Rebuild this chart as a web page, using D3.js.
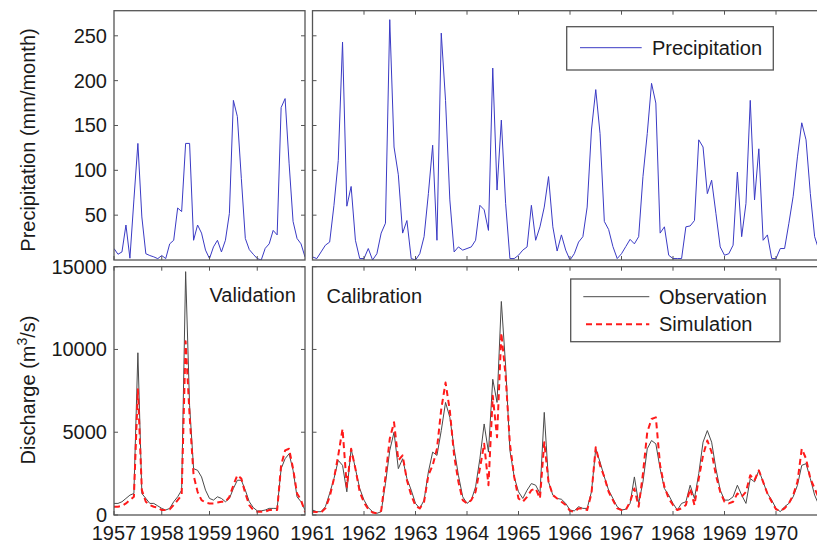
<!DOCTYPE html>
<html>
<head>
<meta charset="utf-8">
<script src="https://cdn.jsdelivr.net/npm/d3@7"></script>
<style>
  body { margin: 0; background: #fff; }
  svg text { font-family: "Liberation Sans", Arial, Helvetica, sans-serif; fill: #1a1a1a; }
</style>
</head>
<body>
<svg id="chart" width="817" height="542"></svg>
<script>
// monthly values, Jan 1957 .. Dec 1960 (validation) and Jan 1961 .. Nov 1970 (calibration)
const precipValidation = [
  12.8, 6.4, 9, 39, 2, 67, 130, 48, 7, 5, 3.5, 1.5,
  5, 1.6, 18, 22, 58, 54, 130, 130, 22, 39, 30, 11,
  1.6, 14.6, 22, 9, 22, 52, 178, 160, 91, 24, 11.6, 6.4,
  1.6, 0, 13, 18, 33, 28, 170, 180, 108, 43, 24, 18
];
const precipCalibration = [
  3.4, 1.6, 9, 16.5, 20, 61, 111, 243, 60, 82, 22, 1.6,
  1.6, 12.8, 0, 7, 30, 41, 268, 126, 95, 30, 44, 1.6,
  0, 7, 26, 74, 128, 22, 253, 178, 67, 9, 14.6, 11,
  12.8, 14.6, 22, 61, 56, 33, 214, 78, 156, 63, 1.6, 1.6,
  5.3, 11, 14.6, 61, 22, 37, 59, 93, 37, 10, 28, 11,
  0, 7, 20, 26, 59, 145, 190, 141, 43, 34, 15, 1.6,
  7, 15, 23, 18, 26, 93, 141, 197, 175, 30, 37, 5.3,
  1.6, 1.6, 1.6, 37, 38, 44, 134, 126, 74, 89, 52, 14.6,
  5.3, 7, 16.5, 98, 26, 63, 178, 67, 124, 22, 28, 1.6,
  1.6, 12.8, 12.8, 41, 71, 115, 153, 134, 74, 26, 11
];
const obsValidation = [
  700, 700, 800, 1000, 1200, 1300, 9800, 1300, 1000, 700, 700, 550,
  400, 300, 400, 800, 1100, 1500, 14700, 6600, 2800, 2700, 2300, 1500,
  1000, 900, 1100, 1000, 800, 1000, 1600, 2100, 2100, 1500, 800, 450,
  250, 250, 300, 400, 400, 400, 2800, 3400, 3700, 2700, 1100, 800
];
const simValidation = [
  500, 500, 550, 700, 900, 1100, 7600, 1500, 800, 600, 500, 450,
  300, 300, 350, 600, 900, 1200, 10500, 6000, 2400, 1400, 900, 750,
  700, 700, 750, 800, 800, 1100, 1800, 2400, 2200, 1300, 600, 300,
  200, 200, 200, 300, 300, 300, 3000, 3900, 4000, 2800, 1300, 900
];
const obsCalibration = [
  300, 200, 200, 500, 1300, 2200, 3300, 3000, 1400, 4000, 2800, 1600,
  900, 450, 200, 100, 200, 1900, 3900, 5000, 2800, 3400, 2200, 1500,
  700, 400, 900, 2600, 3800, 3600, 5100, 6800, 5900, 4000, 2400, 1100,
  700, 900, 1700, 3400, 5500, 3800, 8200, 6800, 12900, 9000, 3900, 2300,
  1400, 1000, 1500, 1900, 1800, 1300, 6200, 2000, 1200, 1000, 950, 700,
  300, 250, 500, 400, 400, 1400, 4000, 3200, 2300, 1500, 1000, 500,
  300, 350, 700, 2300, 700, 2000, 4000, 4500, 4300, 2800, 1600, 1200,
  700, 300, 700, 800, 1800, 1000, 2500, 4400, 5100, 4400, 2800, 1500,
  900, 900, 1100, 1800, 1200, 700, 2200, 2000, 2700, 2000, 1300, 900,
  400, 200, 500, 700, 1100, 1800, 3000, 3100, 2200, 1200, 600
];
const simCalibration = [
  200, 180, 160, 400, 1100, 2200, 3600, 5200, 1700, 4000, 2800, 1400,
  750, 350, 150, 100, 250, 2300, 4600, 5600, 3300, 3600, 2100, 1200,
  550, 400, 800, 2400, 3000, 4000, 6400, 8000, 6300, 3600, 2000, 900,
  700, 900, 1400, 2800, 4300, 1800, 7200, 4700, 11000, 8400, 4300, 2300,
  1000, 800, 1100, 1500, 1600, 1000, 4400, 2000, 1200, 1000, 800, 600,
  250, 200, 400, 400, 300, 1300, 4100, 3000, 2300, 1400, 900, 400,
  300, 300, 800, 1600, 500, 2500, 5000, 5800, 5900, 3000, 1700, 1000,
  600, 300, 400, 600, 1600, 600, 2200, 3600, 4500, 3800, 2400, 1400,
  800, 700, 800, 1300, 1100, 1400, 2400, 2100, 2700, 2000, 1300, 800,
  350, 250, 400, 700, 1200, 2000, 4000, 3400, 2200, 1600, 1000
];
const yearsValidation = [1957, 1958, 1959, 1960];
const yearsCalibration = [1961, 1962, 1963, 1964, 1965, 1966, 1967, 1968, 1969, 1970];
const precipTicks = [50, 100, 150, 200, 250];
const dischargeTicks = [0, 5000, 10000, 15000];

const startYear = 1957;
const toSeries = arr => arr.map((v, i) => ({ t: startYear + i / 12, v: v }));
const precip = toSeries(precipValidation.concat(precipCalibration));
const obs = toSeries(obsValidation.concat(obsCalibration));
const sim = toSeries(simValidation.concat(simCalibration));

const svg = d3.select("#chart");
const frameColor = "#555";
const fontSize = 20;

// x scales for the two columns, y scales for the two rows
const xLeft = d3.scaleLinear().domain([1957, 1961]).range([114, 305]);
const xRight = d3.scaleLinear().domain([1961, 1971]).range([312.5, 827.5]);
const yPrecip = d3.scaleLinear().domain([0, 278]).range([260, 10.7]);
const yQ = d3.scaleLinear().domain([0, 15000]).range([515, 266.7]);

const panels = [
  { id: "tl", x: xLeft, y: yPrecip, yTicks: precipTicks, years: yearsValidation, yLabels: true, topTicks: false, xLabels: false },
  { id: "tr", x: xRight, y: yPrecip, yTicks: precipTicks, years: yearsCalibration, yLabels: false, topTicks: true, xLabels: false },
  { id: "bl", x: xLeft, y: yQ, yTicks: dischargeTicks, years: yearsValidation, yLabels: true, topTicks: true, xLabels: true },
  { id: "br", x: xRight, y: yQ, yTicks: dischargeTicks, years: yearsCalibration, yLabels: false, topTicks: true, xLabels: true }
];

const defs = svg.append("defs");

panels.forEach(p => {
  const [x0, x1] = p.x.range();
  const [y1, y0] = p.y.range();
  p.x0 = x0; p.x1 = x1; p.y0 = y0; p.y1 = y1;
  defs.append("clipPath").attr("id", "clip-" + p.id)
    .append("rect").attr("x", x0).attr("y", y0).attr("width", x1 - x0).attr("height", y1 - y0);
  p.g = svg.append("g");
  p.plot = p.g.append("g").attr("clip-path", `url(#clip-${p.id})`);
});

function drawLine(p, data, color, width, dash) {
  const line = d3.line().x(d => p.x(d.t)).y(d => p.y(d.v));
  p.plot.append("path")
    .datum(data)
    .attr("d", line)
    .attr("fill", "none")
    .attr("stroke", color)
    .attr("stroke-width", width)
    .attr("stroke-linejoin", "round")
    .attr("stroke-dasharray", dash || null);
}

const precipColor = "#3a3ac4";
const obsColor = "#4a4a4a";
const simColor = "#ff1a1a";

drawLine(panels[0], precip, precipColor, 1);
drawLine(panels[1], precip, precipColor, 1);
[panels[2], panels[3]].forEach(p => {
  drawLine(p, obs, obsColor, 1);
  drawLine(p, sim, simColor, 2, "6,4");
});

// ticks, frames, labels
panels.forEach(p => {
  const g = p.g;
  const tk = 4;
  p.yTicks.forEach(v => {
    const yy = p.y(v);
    g.append("line").attr("x1", p.x0).attr("x2", p.x0 + tk).attr("y1", yy).attr("y2", yy)
      .attr("stroke", frameColor);
    g.append("line").attr("x1", p.x1).attr("x2", p.x1 - tk).attr("y1", yy).attr("y2", yy)
      .attr("stroke", frameColor);
    if (p.yLabels) {
      g.append("text").attr("x", p.x0 - 7).attr("y", yy)
        .attr("text-anchor", "end").attr("dominant-baseline", "central")
        .attr("font-size", fontSize).text(v);
    }
  });
  p.years.forEach(yr => {
    const xx = p.x(yr);
    g.append("line").attr("x1", xx).attr("x2", xx).attr("y1", p.y1).attr("y2", p.y1 - tk)
      .attr("stroke", frameColor);
    if (p.topTicks) {
      g.append("line").attr("x1", xx).attr("x2", xx).attr("y1", p.y0).attr("y2", p.y0 + tk)
        .attr("stroke", frameColor);
    }
    if (p.xLabels) {
      g.append("text").attr("x", xx).attr("y", 540)
        .attr("text-anchor", "middle").attr("font-size", fontSize).text(yr);
    }
  });
  g.append("rect")
    .attr("x", p.x0).attr("y", p.y0)
    .attr("width", p.x1 - p.x0).attr("height", p.y1 - p.y0)
    .attr("fill", "none").attr("stroke", frameColor).attr("stroke-width", 1.3);
});

// axis titles
svg.append("text")
  .attr("transform", "translate(35,140) rotate(-90)")
  .attr("text-anchor", "middle").attr("font-size", fontSize)
  .text("Precipitation (mm/month)");

const qTitle = svg.append("text")
  .attr("transform", "translate(35,390) rotate(-90)")
  .attr("text-anchor", "middle").attr("font-size", fontSize);
qTitle.append("tspan").text("Discharge (m");
qTitle.append("tspan").attr("font-size", 14).attr("dy", -8).text("3");
qTitle.append("tspan").attr("dy", 8).text("/s)");

// panel captions
svg.append("text").attr("x", 209.5).attr("y", 302).attr("font-size", fontSize).text("Validation");
svg.append("text").attr("x", 326.5).attr("y", 303).attr("font-size", fontSize).text("Calibration");

// legends
function legend(x, y, w, h, items) {
  const g = svg.append("g");
  g.append("rect").attr("x", x).attr("y", y).attr("width", w).attr("height", h)
    .attr("fill", "#fff").attr("stroke", frameColor).attr("stroke-width", 1.3);
  items.forEach(it => {
    g.append("line").attr("x1", it.x1).attr("x2", it.x2).attr("y1", it.y).attr("y2", it.y)
      .attr("stroke", it.color).attr("stroke-width", it.width)
      .attr("stroke-dasharray", it.dash || null);
    g.append("text").attr("x", it.tx).attr("y", it.y + 7)
      .attr("font-size", fontSize).text(it.label);
  });
}

legend(566.7, 26.7, 206.6, 43.3, [
  { label: "Precipitation", color: precipColor, width: 1, x1: 580, x2: 641.7, y: 47.7, tx: 652 }
]);
legend(570.7, 279, 209.3, 62.7, [
  { label: "Observation", color: obsColor, width: 1, x1: 583.3, x2: 649.3, y: 296.7, tx: 659 },
  { label: "Simulation", color: simColor, width: 2, dash: "6,4", x1: 586, x2: 649.3, y: 324.3, tx: 659 }
]);
</script>
</body>
</html>
